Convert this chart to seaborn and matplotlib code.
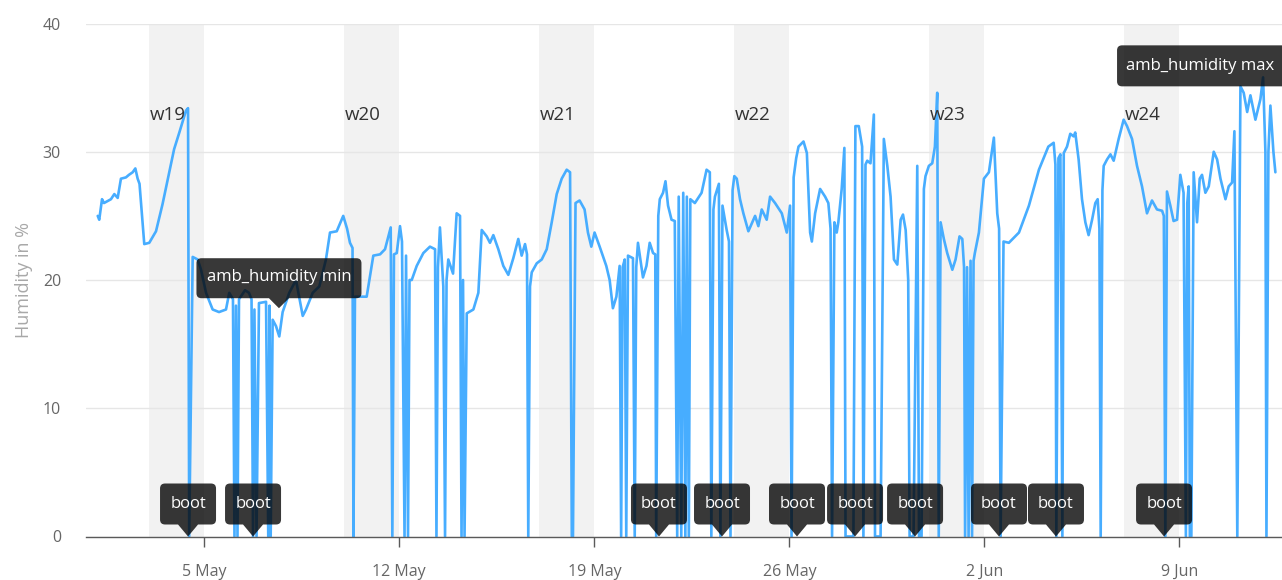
import numpy as np
import pandas as pd
import matplotlib
matplotlib.use("Agg")
import matplotlib.pyplot as plt
import matplotlib.dates as mdates
from matplotlib.path import Path
from matplotlib.patches import PathPatch
from matplotlib.transforms import Affine2D, ScaledTranslation, offset_copy
import seaborn as sns

START = pd.Timestamp("2019-05-01 00:00")

# Hours after START and the ambient humidity (%) logged at that moment.
# Readings of 0 are the moments the sensor node rebooted.
hours = [
    4.2, 5.5, 7.9, 9.6, 15.6, 18.5, 21.4, 24.2, 28.5, 31.1, 34.3, 36.6, 38.6, 40.2,
    44.3, 48.6, 54.4, 60.0, 65.8, 70.0, 74.5, 80.2, 82.0, 83.0, 86.0, 90.3, 93.2, 97.5, 103.2,
    108.7, 114.7, 117.5, 120.7, 122.0, 123.3, 124.6, 125.9, 131.1, 134.5, 136.7,
    138.0, 139.2, 141.0, 143.1, 149.2, 151.1, 152.2, 153.2, 154.9, 157.8, 160.6,
    163.5, 169.2, 175.0, 180.8, 183.6, 189.4, 195.1, 200.8, 204.3, 210.1, 215.7,
    219.0, 221.5, 223.7, 224.5, 225.8, 235.9, 241.6, 247.4, 251.7, 256.6, 258.0,
    259.4, 261.8, 264.6, 266.3, 268.5, 269.8, 271.5, 272.8, 274.7, 279.0, 284.7,
    290.4, 294.8, 296.0, 297.3, 299.0, 301.9, 303.4, 304.7, 306.2, 310.3, 313.4,
    316.3, 317.6, 318.9, 320.2, 322.1, 327.8, 332.1, 335.0, 339.3, 342.1, 345.0,
    349.3, 353.6, 357.9, 362.2, 366.5, 369.4, 372.3, 374.0, 375.1, 376.6, 378.1,
    382.4, 386.7, 391.0, 395.3, 399.6, 403.9, 408.2, 411.1, 412.6, 413.6, 415.8,
    419.3, 423.6, 426.5, 429.4, 432.2, 436.6, 442.3, 445.2, 448.0, 451.0, 453.8,
    455.1, 456.4, 458.2, 459.5, 461.0, 465.3, 466.8, 468.1, 469.6, 473.9, 476.9,
    479.7, 482.6, 484.5, 485.3, 487.1, 488.4, 491.2, 493.3, 495.5, 498.5, 501.3,
    503.4, 504.7, 506.9, 508.6, 510.4, 511.7, 513.4, 514.7, 518.6, 524.4, 528.7,
    531.5, 532.8, 534.6, 535.9, 539.3, 540.6, 542.4, 546.0, 548.0, 549.3, 551.1,
    552.6, 554.7, 557.5, 560.4, 564.7, 570.5, 573.3, 576.2, 580.5, 583.4, 587.7,
    593.5, 597.8, 600.6, 601.9, 603.7, 605.9, 607.9, 612.2, 615.1, 617.9, 619.4,
    622.2, 626.5, 630.8, 633.6, 635.5, 636.8, 638.8, 640.8, 642.2, 645.1, 647.4,
    648.4, 655.2, 656.9, 659.8, 662.7, 663.8, 665.6, 667.1, 669.9, 672.8, 673.8,
    678.6, 681.4, 684.4, 687.2, 690.1, 693.0, 695.9, 697.9, 700.2, 702.4, 703.6,
    707.0, 710.2, 711.7, 713.9, 715.9, 717.3, 720.2, 723.1, 725.4, 727.4, 728.7,
    730.3, 733.1, 736.0, 740.4, 743.2, 746.6, 749.0, 750.5, 751.4, 753.1, 754.4,
    756.1, 757.4, 758.7, 759.8, 763.3, 767.6, 771.9, 776.2, 779.1, 780.7, 782.0,
    784.5, 789.1, 797.8, 806.4, 815.0, 823.1, 827.7, 829.2, 830.0, 831.8, 833.5,
    835.2, 836.4, 839.2, 842.0, 844.9, 846.3, 849.2, 852.1, 855.0, 857.8, 860.8,
    863.6, 865.6, 867.1, 868.2, 869.7, 870.8, 873.7, 876.6, 879.4, 883.7, 888.0,
    890.9, 895.2, 899.5, 903.8, 908.1, 912.4, 916.7, 921.1, 922.6, 923.9, 925.3,
    928.2, 931.0, 934.0, 936.8, 939.6, 941.6, 942.8, 944.0, 945.0, 946.3, 948.3,
    951.2, 953.5, 955.5, 958.4, 961.3, 965.6, 968.5, 971.4, 975.7, 978.5, 981.4,
    983.4, 985.9, 988.6, 991.4, 994.4, 997.2, 1001.5, 1005.8, 1008.1, 1010.1,
    1011.0, 1012.7, 1014.4, 1017.0, 1018.7,
]
humidity = [
    25.0, 24.7, 26.3, 26.0, 26.3, 26.7, 26.4, 27.9, 28.0, 28.2, 28.4, 28.7, 27.9, 27.5,
    22.8, 22.9, 23.8, 25.9, 28.4, 30.2, 31.5, 33.2, 33.4, 0, 21.8, 21.6, 20.8, 19.0, 17.7,
    17.5, 17.7, 19.0, 18.5, 0, 18.0, 0, 18.5, 19.2, 19.0, 18.5,
    0, 17.7, 0, 18.2, 18.3, 0, 18.0, 0, 16.9, 16.4, 15.6,
    17.5, 19.0, 20.0, 17.2, 17.7, 19.0, 19.5, 21.6, 23.7, 23.8, 25.0,
    24.0, 22.9, 22.5, 0, 18.7, 18.7, 21.9, 22.0, 22.4, 24.1, 0,
    22.0, 22.1, 24.2, 23.0, 0, 21.9, 0, 20.0, 20.0, 21.1, 22.1,
    22.6, 22.4, 0, 21.0, 24.1, 19.5, 0, 20.0, 21.6, 20.5, 25.2,
    25.0, 0, 20.0, 0, 17.4, 17.7, 19.0, 23.9, 23.4, 22.9, 23.5,
    22.4, 21.1, 20.4, 21.7, 23.2, 21.9, 22.8, 22.0, 0, 19.5, 20.6,
    21.3, 21.6, 22.4, 24.5, 26.7, 27.9, 28.6, 28.4, 0, 0, 26.0,
    26.2, 25.5, 23.7, 22.6, 23.7, 22.6, 21.1, 20.0, 17.8, 18.7, 21.1,
    0, 21.0, 21.6, 0, 21.9, 21.7, 0, 21.0, 22.9, 20.2, 21.1,
    22.9, 22.1, 22.0, 0, 25.0, 26.3, 26.8, 27.7, 25.8, 24.7, 24.6,
    0, 26.5, 0, 26.8, 0, 26.5, 0, 26.3, 26.0, 26.8, 28.6,
    28.4, 0, 25.5, 26.5, 27.5, 0, 25.8, 23.9, 23.0, 0, 27.0,
    28.1, 27.9, 26.3, 25.2, 23.8, 25.0, 24.2, 25.5, 24.7, 26.5, 26.0,
    25.2, 23.7, 25.8, 0, 28.0, 29.5, 30.4, 30.8, 29.9, 23.7, 23.0,
    25.2, 27.1, 26.5, 26.0, 24.0, 0, 24.5, 23.7, 24.5, 27.1, 30.3,
    0, 0, 32.0, 32.0, 30.4, 0, 29.0, 29.3, 29.1, 32.9, 0,
    0, 31.0, 28.9, 26.5, 21.6, 21.2, 24.7, 25.1, 23.9, 20.0, 0,
    0, 28.9, 0, 0, 27.1, 28.1, 28.9, 29.1, 30.4, 34.6, 0,
    24.5, 23.2, 22.1, 20.8, 21.6, 23.4, 23.2, 21.0, 0, 21.0, 0,
    21.5, 0, 21.5, 22.1, 23.7, 27.9, 28.4, 31.1, 25.2, 24.0, 0,
    23.0, 22.9, 23.7, 25.8, 28.6, 30.4, 30.7, 29.0, 0, 29.5, 29.8,
    0, 29.9, 30.4, 31.4, 31.2, 31.5, 29.4, 26.3, 24.5, 23.5, 24.7,
    26.0, 26.3, 24.0, 0, 27.0, 28.9, 29.4, 29.8, 29.3, 31.0, 32.5,
    32.0, 31.0, 28.9, 27.3, 25.2, 26.2, 25.5, 25.4, 25.0, 0, 26.9,
    25.8, 24.6, 24.7, 28.2, 26.8, 0, 26.0, 27.3, 0, 0, 28.4,
    24.5, 27.9, 28.2, 26.8, 27.3, 30.0, 29.4, 27.9, 26.3, 27.3, 27.6,
    31.6, 0, 35.1, 34.6, 33.1, 34.4, 32.5, 34.1, 35.8, 30.0,
    0, 30.0, 33.6, 30.0, 28.4,
]

# reboot events (hours after START)
boot_hours = [82.0, 138.0, 487.7, 542.0, 606.6, 656.6, 708.3, 780.6, 829.7, 922.8]

# weekend shading with the calendar-week label
week_labels = ["w19", "w20", "w21", "w22", "w23", "w24"]
weekend_starts = ["2019-05-03", "2019-05-10", "2019-05-17", "2019-05-24",
                  "2019-05-31", "2019-06-07"]

tick_dates = ["2019-05-05", "2019-05-12", "2019-05-19", "2019-05-26",
              "2019-06-02", "2019-06-09"]
tick_labels = ["5 May", "12 May", "19 May", "26 May", "2 Jun", "9 Jun"]

# flagged extremes: text, hour after START, humidity the flag sits at
min_flag = ("amb_humidity min", 158.6, 17.8)
max_flag = ("amb_humidity max", 882.3, 35.1)

x_range_hours = (-5.9, 1024.4)

LINE = "#47adff"
DPI = 100

sns.set_theme(style="white")
plt.rcParams["font.family"] = ["Open Sans", "DejaVu Sans"]

df = pd.DataFrame({
    "time": START + pd.to_timedelta(hours, unit="h"),
    "humidity": humidity,
})

fig = plt.figure(figsize=(12.82, 5.80), dpi=DPI)
ax = fig.add_axes([86 / 1282, 43.5 / 580, 1 - 86 / 1282, 513 / 580])


def to_num(h):
    return mdates.date2num(START + pd.Timedelta(hours=h))


# weekend bands and week labels
for lab, ws in zip(week_labels, weekend_starts):
    t0 = pd.Timestamp(ws)
    ax.axvspan(t0, t0 + pd.Timedelta(days=2), color="#f2f2f2", lw=0, zorder=0)
    ax.text(mdates.date2num(t0), 32.9, lab, ha="left", va="center",
            fontsize=13.5, color="#333333", zorder=3,
            transform=offset_copy(ax.transData, fig, x=1, y=0, units="dots"))

sns.lineplot(data=df, x="time", y="humidity", ax=ax, color=LINE,
             linewidth=1.9, estimator=None, sort=False, zorder=2)


def callout(w, h, r, tip=0.0, base=0.0):
    """Rounded box of w x h pixels whose pointer tip sits at (0, 0)."""
    x0, x1, y0, y1 = -w / 2, w / 2, tip, tip + h
    v = [(x0 + r, y0)]
    c = [Path.MOVETO]
    if tip > 0:
        v += [(-base / 2, y0), (0, 0), (base / 2, y0)]
        c += [Path.LINETO] * 3
    v += [(x1 - r, y0), (x1, y0), (x1, y0 + r), (x1, y1 - r), (x1, y1), (x1 - r, y1),
          (x0 + r, y1), (x0, y1), (x0, y1 - r), (x0, y0 + r), (x0, y0), (x0 + r, y0),
          (x0 + r, y0)]
    c += [Path.LINETO, Path.CURVE3, Path.CURVE3, Path.LINETO, Path.CURVE3, Path.CURVE3,
          Path.LINETO, Path.CURVE3, Path.CURVE3, Path.LINETO, Path.CURVE3, Path.CURVE3,
          Path.CLOSEPOLY]
    return Path(v, c)


def place(path, xd, yd, dx=0.0):
    trans = (Affine2D().translate(dx, 0).scale(1 / DPI) + fig.dpi_scale_trans
             + ScaledTranslation(xd, yd, ax.transData))
    patch = PathPatch(path, transform=trans, facecolor="#060606", alpha=0.8,
                      edgecolor="none", zorder=5, clip_on=False)
    ax.add_patch(patch)


# reboot flags on the time axis
for bh in boot_hours:
    xd = to_num(bh)
    place(callout(56, 41, 5, tip=12, base=20), xd, 0)
    ax.text(xd, 0, "boot", ha="center", va="center", color="white", fontsize=12,
            zorder=6, transform=offset_copy(ax.transData, fig, x=0, y=33, units="dots"))

# minimum flag
txt, mh, mv = min_flag
xd = to_num(mh)
place(callout(165, 40, 5, tip=10, base=20), xd, mv, dx=2)
ax.text(xd, mv, txt, ha="center", va="center", color="white", fontsize=12, zorder=6,
        transform=offset_copy(ax.transData, fig, x=2, y=31, units="dots"))

# maximum flag (box runs off the right edge)
txt, xh, xv = max_flag
xd = to_num(xh)
place(callout(172, 41, 5), xd, xv, dx=86)
ax.text(xd, xv, txt, ha="left", va="center", color="white", fontsize=12, zorder=6,
        transform=offset_copy(ax.transData, fig, x=9, y=20, units="dots"))

# axes styling
ax.set_xlim(to_num(x_range_hours[0]), to_num(x_range_hours[1]))
ax.set_ylim(0, 40)
ax.set_yticks([0, 10, 20, 30, 40])
ax.yaxis.grid(True, color="#e6e6e6", lw=1.0, zorder=1)
ax.xaxis.grid(False)
ax.set_axisbelow(True)

ax.set_xticks(mdates.date2num(pd.to_datetime(tick_dates)))
ax.set_xticklabels(tick_labels)

for side in ("top", "right", "left"):
    ax.spines[side].set_visible(False)
ax.spines["bottom"].set_color("#5a5a5a")
ax.spines["bottom"].set_linewidth(1.0)
ax.spines["bottom"].set_zorder(4)

ax.tick_params(axis="x", direction="out", length=7.5, width=1.0, color="#5a5a5a",
               pad=12, labelsize=11.5, labelcolor="#666666", bottom=True)
ax.tick_params(axis="y", length=0, pad=18, labelsize=11.5, labelcolor="#666666")

ax.set_xlabel("")
ax.set_ylabel("Humidity in %", fontsize=13, color="#a8a8a8", labelpad=7)

fig.savefig("out.png", dpi=DPI)
